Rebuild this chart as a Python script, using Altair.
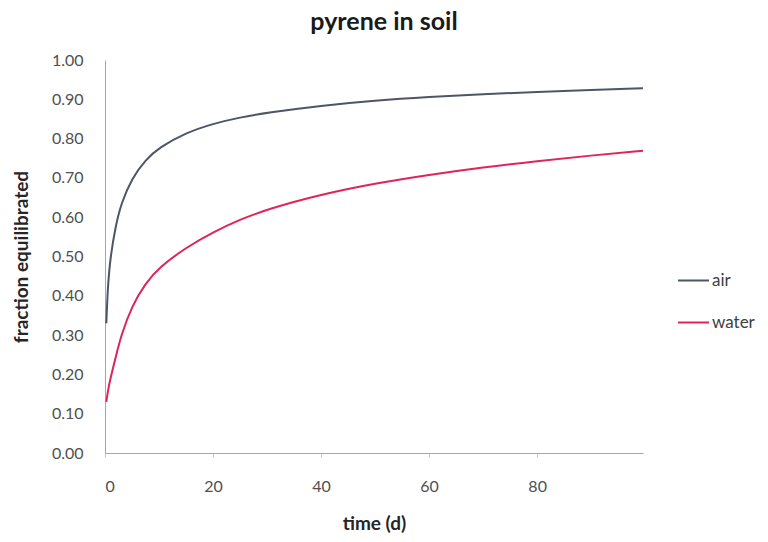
import altair as alt
import pandas as pd

time_air = [0.25, 0.5, 1, 2, 3, 5, 7.5, 10, 15, 20, 25, 30, 40, 50, 60, 70, 80, 90, 99.6]
air = [0.33, 0.42, 0.50, 0.58, 0.635, 0.70, 0.746, 0.777, 0.815, 0.838, 0.854, 0.866, 0.884, 0.897, 0.906, 0.913, 0.919, 0.924, 0.928]
time_water = [0.25, 0.5, 1, 2, 3, 5, 7.5, 10, 15, 20, 25, 30, 40, 50, 60, 70, 80, 90, 99.6]
water = [0.13, 0.155, 0.19, 0.245, 0.30, 0.375, 0.432, 0.472, 0.523, 0.562, 0.594, 0.62, 0.658, 0.686, 0.708, 0.727, 0.743, 0.757, 0.769]
series = ["air", "water"]
colors = ["#4d5566", "#e0245a"]
x_ticks = [0, 20, 40, 60, 80]
y_ticks = [0.0, 0.1, 0.2, 0.3, 0.4, 0.5, 0.6, 0.7, 0.8, 0.9, 1.0]

df = pd.concat([
    pd.DataFrame({"t": time_air, "f": air, "s": "air"}),
    pd.DataFrame({"t": time_water, "f": water, "s": "water"}),
])

FONT = "Lato"

chart = alt.Chart(df).mark_line(interpolate="basis", strokeWidth=2).encode(
    x=alt.X("t:Q", title="time (d)",
            scale=alt.Scale(domain=[0, 99.6], nice=False),
            axis=alt.Axis(values=x_ticks, grid=False, labelPadding=21, titlePadding=20,
                          tickSize=4, tickColor="#c8c8c8", domainColor="#a6a6a6")),
    y=alt.Y("f:Q", title="fraction equilibrated",
            scale=alt.Scale(domain=[0, 1], nice=False),
            axis=alt.Axis(values=y_ticks, format=".2f", grid=False, labelPadding=22,
                          titlePadding=20, tickSize=0, domainColor="#a6a6a6")),
    color=alt.Color("s:N", title=None,
                    scale=alt.Scale(domain=series, range=colors),
                    legend=alt.Legend(orient="none", legendX=572, legendY=204,
                                      symbolType="stroke", symbolSize=961,
                                      symbolStrokeWidth=2, labelOffset=2,
                                      rowPadding=17, labelFontSize=17,
                                      labelColor="#404040", labelFont=FONT)),
).properties(
    width=538, height=393,
    title=alt.TitleParams("pyrene in soil", fontSize=25, font=FONT, fontWeight="bold",
                          color="#1a1a1a", anchor="middle", dx=10, offset=17),
    autosize=alt.AutoSizeParams(type="none"),
    padding={"left": 97, "top": 52, "right": 117, "bottom": 81},
).configure_view(stroke=None).configure_axis(
    labelFont=FONT, labelFontSize=16, labelColor="#505050",
    titleFont=FONT, titleFontSize=19, titleFontWeight="bold", titleColor="#262626",
)

chart.save("out.html", embed_options={"renderer": "svg", "actions": False})
